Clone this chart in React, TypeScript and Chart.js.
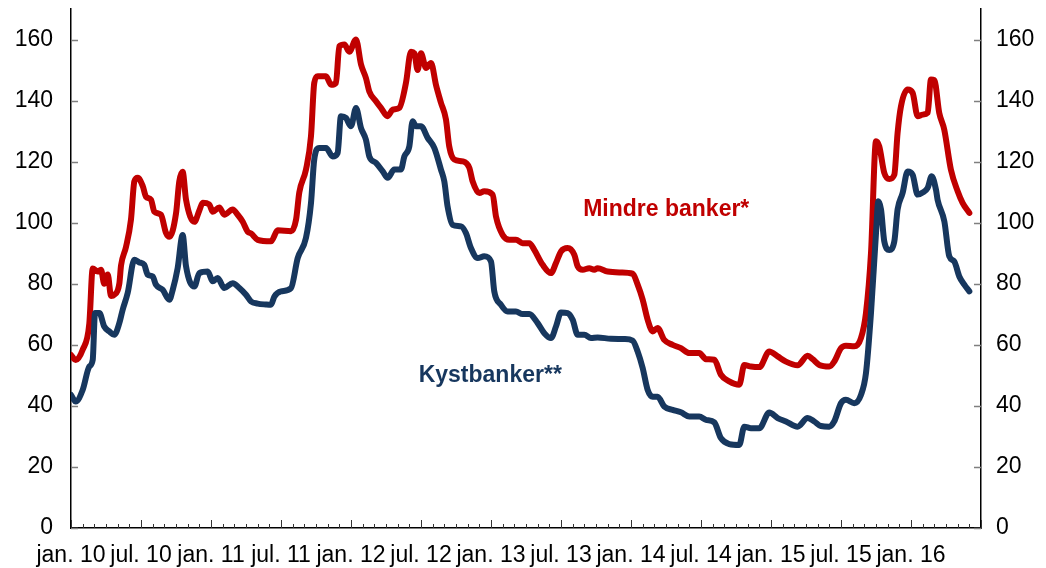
import React, { useEffect, useRef } from 'react';
import { Chart, registerables } from 'chart.js';

Chart.register(...registerables);

// Tick labels (every 6 months, starting jan. 2010)
const tickLabels = ['jan. 10', 'jul. 10', 'jan. 11', 'jul. 11', 'jan. 12', 'jul. 12', 'jan. 13', 'jul. 13', 'jan. 14', 'jul. 14', 'jan. 15', 'jul. 15', 'jan. 16'];

// Months since jan. 2010 / values for "Mindre banker*"
const mindreMonths = [
  0, 0.4, 1.0, 1.57, 1.86, 2.29, 2.57, 2.85, 3.15, 3.43,
  3.71, 4.14, 4.29, 4.71, 5.14, 5.43, 5.72, 6.15, 6.43, 6.86,
  7.14, 7.71, 8.14, 8.43, 9.0, 9.28, 9.57, 9.86, 10.57, 11.0,
  11.29, 11.85, 12.15, 12.71, 13.14, 13.86, 14.29, 14.72, 15.15, 15.43,
  16.0, 17.14, 17.72, 18.86, 19.29, 19.57, 20.14, 20.57, 20.85, 21.15,
  21.86, 22.29, 22.71, 23.0, 23.43, 23.85, 24.43, 24.86, 25.28, 25.57,
  26.14, 26.57, 27.14, 27.57, 28.14, 28.71, 29.14, 29.43, 29.71, 30.0,
  30.43, 30.86, 31.28, 31.71, 32.14, 32.42, 32.85, 33.57, 34.14, 34.43,
  35.0, 35.42, 36.14, 36.43, 37.0, 37.57, 38.14, 38.71, 39.28, 39.71,
  40.43, 41.14, 41.57, 42.0, 42.57, 43.14, 43.43, 43.86, 44.42, 44.85,
  45.14, 46.0, 47.14, 48.14, 48.57, 49.0, 49.43, 49.86, 50.28, 50.85,
  51.57, 52.28, 53.0, 53.85, 54.43, 55.14, 55.71, 56.42, 57.28, 57.71,
  58.28, 59.0, 59.85, 60.57, 61.28, 62.28, 63.14, 63.57, 64.14, 65.0,
  65.42, 66.0, 66.42, 67.14, 67.71, 68.14, 68.57, 69.0, 69.28, 69.71,
  70.14, 70.57, 70.85, 71.14, 71.71, 72.14, 72.57, 73.0, 73.43, 73.71,
  74.0, 74.42, 74.85, 75.42, 76.0, 76.42, 77.0,
];
const mindreValues = [
  56.7, 55, 58.4, 67, 85, 84, 84.6, 80, 83, 76,
  76.4, 80, 86, 92, 101, 113.5, 114.7, 112, 108.5, 107.5,
  103.6, 102.6, 96.7, 95.4, 103, 113.5, 116.7, 107.5, 100.3, 104,
  106.5, 106, 103.6, 105, 102.6, 104.3, 102.6, 100.3, 97, 96.5,
  94.4, 93.9, 97.5, 97.2, 101, 110, 117.4, 128.3, 145.8, 148,
  148, 145.2, 145.8, 157.8, 158.4, 156, 160, 151.8, 147.4, 143,
  139.8, 137.6, 134.9, 137, 137.6, 145.8, 156, 155.5, 150, 155.5,
  150.7, 152.3, 145.2, 139.3, 133.8, 125, 120.7, 120.1, 118, 113.5,
  109.7, 110.3, 109.2, 102, 96, 94.4, 94.4, 93.3, 93.3, 91.1,
  86.2, 83.5, 86.8, 90.6, 91.7, 89.5, 85.7, 84.6, 85.1, 84.6,
  85.1, 84, 83.7, 83.3, 79.7, 74.8, 68.2, 64.4, 65.5, 61.6,
  60, 58.9, 57.3, 57.3, 55.3, 55.1, 50.2, 48, 46.9, 53.4,
  52.9, 52.7, 57.8, 56.2, 54.5, 53.3, 56.4, 55.3, 53.4, 52.9,
  54.5, 58.9, 59.7, 59.5, 62.2, 70.4, 90, 126.7, 125, 116.3,
  114.3, 115.7, 129.4, 138.1, 143.6, 142.5, 134.9, 135.4, 136, 146.9,
  146.7, 136, 130.5, 117.4, 110.3, 106.5, 103.2,
];

// Months since jan. 2010 / values for "Kystbanker**"
const kystMonths = [
  0, 0.4, 1.0, 1.57, 1.86, 2.06, 2.43, 2.85, 3.28, 3.71,
  4.14, 4.43, 4.86, 5.43, 5.85, 6.28, 6.57, 7.0, 7.28, 7.86,
  8.43, 8.72, 9.14, 9.57, 9.86, 10.57, 11.0, 11.72, 12.15, 12.57,
  13.14, 13.86, 14.43, 15.0, 15.43, 16.0, 16.71, 17.14, 17.43, 18.0,
  18.86, 19.43, 20.14, 20.57, 20.85, 21.28, 21.86, 22.43, 22.85, 23.14,
  23.57, 24.0, 24.43, 24.86, 25.28, 25.57, 26.14, 26.72, 27.14, 27.71,
  28.28, 28.57, 29.0, 29.28, 29.57, 30.0, 30.57, 31.14, 31.71, 32.0,
  32.28, 32.71, 33.43, 33.85, 34.28, 34.86, 35.42, 36.0, 36.28, 36.86,
  37.43, 38.14, 38.71, 39.28, 40.0, 40.57, 41.14, 41.57, 42.0, 42.57,
  43.0, 43.43, 44.0, 44.57, 45.14, 46.28, 47.43, 48.14, 48.57, 49.0,
  49.43, 49.86, 50.28, 50.85, 51.57, 52.28, 53.0, 53.85, 54.43, 55.14,
  55.71, 56.42, 57.28, 57.71, 58.28, 59.0, 59.85, 60.57, 61.28, 62.28,
  63.14, 63.71, 64.28, 65.0, 65.42, 66.0, 66.42, 67.14, 67.71, 68.14,
  68.57, 69.0, 69.2, 69.43, 69.71, 70.14, 70.57, 70.85, 71.28, 71.71,
  72.14, 72.57, 73.0, 73.43, 73.77, 74.14, 74.28, 74.86, 75.28, 75.71,
  76.14, 76.57, 77.0,
];
const kystValues = [
  43.6, 41.4, 45.2, 52.9, 55, 70.4, 70.4, 66, 64.4, 63.3,
  67.1, 71.5, 77, 87.9, 87, 86.2, 83, 82.4, 79.7, 78,
  74.8, 78, 85.1, 96, 85.7, 79.1, 83.5, 84, 80.8, 81.9,
  78.6, 80.2, 78.6, 76.4, 74.2, 73.5, 73.2, 73.1, 75.8, 77.5,
  78.6, 88.4, 95, 106.4, 120.7, 124.5, 124.5, 121.7, 122.8, 134.9,
  134.3, 131.6, 137.6, 131, 127.2, 121.7, 119.6, 116.8, 114.7, 117.4,
  117.4, 121.7, 125, 133.2, 131.6, 131.6, 127.8, 124.5, 117.4, 113.5,
  105.3, 99.3, 98.8, 96.6, 91.7, 88.4, 89, 87.3, 77.5, 73.1,
  70.9, 70.9, 70.1, 70.1, 67.1, 63.8, 62.2, 66, 70.6, 70.4,
  68.2, 63.3, 63.3, 62.2, 62.4, 62, 61.9, 61.4, 57.8, 52.4,
  45.2, 43, 43, 39.8, 38.7, 37.9, 36.5, 36.5, 35.4, 34.6,
  29.4, 27.5, 27.2, 33.2, 32.7, 32.7, 37.8, 36, 34.9, 33.2,
  36, 34.9, 33.4, 33.2, 34.9, 40.9, 42, 40.9, 43.6, 50.7,
  70.4, 96.6, 107, 104.3, 93.9, 91.1, 93.9, 104.3, 109.7, 116.8,
  115.7, 109.2, 109.9, 111.4, 115.2, 110.8, 107.5, 100.4, 89, 87.3,
  82.4, 79.7, 77.5,
];

const seriesNames = ['Mindre banker*', 'Kystbanker**'];
const RED = '#C00000';
const BLUE = '#17375E';
const FONT = '"Liberation Sans", Arial, Helvetica, sans-serif';

const innerTicks = {
  id: 'innerTicks',
  beforeDatasetsDraw(chart: any) {
    const { ctx, chartArea } = chart;
    const x = chart.scales.x;
    const y = chart.scales.y;
    ctx.save();
    ctx.lineWidth = 1.5;
    ctx.strokeStyle = '#7f7f7f';
    for (let v = 0; v <= 160; v += 20) {
      const py = Math.round(y.getPixelForValue(v)) + 0.5;
      ctx.beginPath();
      ctx.moveTo(chartArea.left, py);
      ctx.lineTo(chartArea.left + 7, py);
      ctx.moveTo(chartArea.right, py);
      ctx.lineTo(chartArea.right - 7, py);
      ctx.stroke();
    }
    ctx.lineWidth = 1;
    ctx.strokeStyle = '#333';
    for (let m = 0; m <= 78; m++) {
      const px = Math.round(x.getPixelForValue(m)) + 0.5;
      const len = m % 6 === 0 ? 8 : 4;
      ctx.beginPath();
      ctx.moveTo(px, chartArea.bottom);
      ctx.lineTo(px, chartArea.bottom - len);
      ctx.stroke();
    }
    ctx.restore();
  },
};

const seriesLabels = {
  id: 'seriesLabels',
  afterDatasetsDraw(chart: any) {
    const { ctx } = chart;
    const x = chart.scales.x;
    const y = chart.scales.y;
    ctx.save();
    ctx.font = `bold 23px ${FONT}`;
    ctx.textBaseline = 'alphabetic';
    ctx.textAlign = 'left';
    ctx.fillStyle = RED;
    ctx.fillText(seriesNames[0], x.getPixelForValue(43.9), y.getPixelForValue(102.3));
    ctx.fillStyle = BLUE;
    ctx.fillText(seriesNames[1], x.getPixelForValue(29.8), y.getPixelForValue(47.7));
    ctx.restore();
  },
};

export default function App() {
  const ref = useRef<HTMLCanvasElement>(null);
  useEffect(() => {
    document.body.style.margin = '0';
    const yAxis = (position: 'left' | 'right', padding: number, width: number) => ({
      type: 'linear' as const,
      position,
      min: 0,
      max: 170,
      grid: { display: false, drawTicks: false },
      border: { display: true, color: '#000', width: 1.5 },
      ticks: {
        stepSize: 20,
        includeBounds: false,
        padding,
        color: '#000',
        font: { family: FONT, size: 23 },
        callback: (v: any) => (v % 20 === 0 && v <= 160 ? String(v) : ''),
      },
      afterFit: (s: any) => {
        s.width = width;
        s.paddingTop = 0;
        s.paddingBottom = 0;
      },
    });
    const lineStyle = {
      borderWidth: 6,
      pointRadius: 0,
      cubicInterpolationMode: 'monotone' as const,
      borderJoinStyle: 'round' as const,
      borderCapStyle: 'round' as const,
      fill: false,
    };
    const chart = new Chart(ref.current as HTMLCanvasElement, {
      type: 'line',
      data: {
        datasets: [
          {
            label: seriesNames[1],
            data: kystMonths.map((m, i) => ({ x: m, y: kystValues[i] })),
            borderColor: BLUE,
            ...lineStyle,
          },
          {
            label: seriesNames[0],
            data: mindreMonths.map((m, i) => ({ x: m, y: mindreValues[i] })),
            borderColor: RED,
            ...lineStyle,
          },
        ],
      },
      options: {
        animation: false,
        responsive: false,
        layout: { padding: { top: 9, left: 0, right: 0, bottom: 0 } },
        plugins: { legend: { display: false }, tooltip: { enabled: false } },
        scales: {
          x: {
            type: 'linear',
            position: 'bottom',
            min: 0,
            max: 78,
            grid: { display: false, drawTicks: false },
            border: { display: true, color: '#000', width: 1.5 },
            ticks: {
              stepSize: 6,
              autoSkip: false,
              maxRotation: 0,
              minRotation: 0,
              padding: 14,
              color: '#000',
              font: { family: FONT, size: 23 },
              callback: (v: any) => tickLabels[Math.round(v / 6)] ?? '',
            },
            afterFit: (s: any) => {
              s.height = 40;
              s.paddingLeft = 0;
              s.paddingRight = 0;
            },
          },
          y: yAxis('left', 18, 71),
          y2: yAxis('right', 15, 65),
        },
      },
      plugins: [innerTicks, seriesLabels],
    });
    return () => chart.destroy();
  }, []);
  return (
    <div style={{ position: 'relative', width: 1046, height: 568 }}>
      <canvas ref={ref} width={1046} height={568} style={{ display: 'block' }} />
    </div>
  );
}
